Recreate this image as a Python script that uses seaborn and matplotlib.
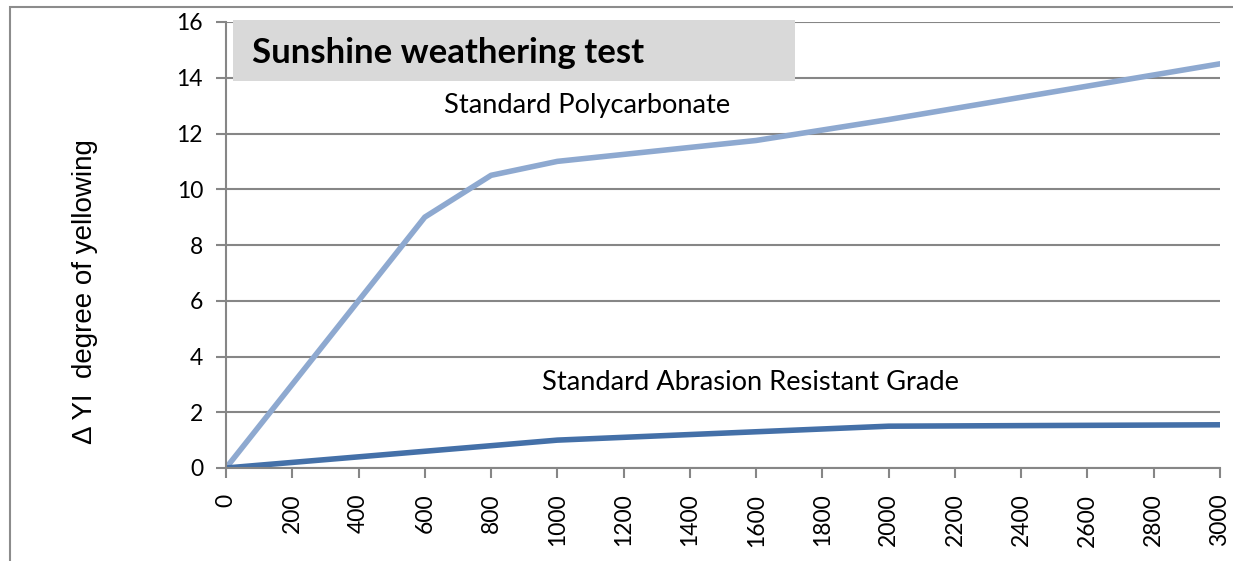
import matplotlib
matplotlib.use("Agg")
import matplotlib.pyplot as plt
import seaborn as sns
import pandas as pd
from matplotlib.patches import Rectangle

# Data
pc_hours = [0, 600, 800, 1000, 1600, 2000, 3000]
pc_yi = [0, 9.0, 10.5, 11.0, 11.75, 12.5, 14.5]
ar_hours = [0, 1000, 1600, 2000, 3000]
ar_yi = [0, 1.0, 1.3, 1.5, 1.55]
x_ticks = list(range(0, 3001, 200))
y_ticks = list(range(0, 17, 2))

title = "Sunshine weathering test"
ylabel = "Δ YI  degree of yellowing"
pc_name = "Standard Polycarbonate"
ar_name = "Standard Abrasion Resistant Grade"

sns.set_theme(style="white")
plt.rcParams['font.family'] = ['Lato', 'DejaVu Sans']
plt.rcParams['text.color'] = 'black'
plt.rcParams['xtick.labelcolor'] = 'black'
plt.rcParams['ytick.labelcolor'] = 'black'
plt.rcParams['axes.labelcolor'] = 'black'

df = pd.concat([
    pd.DataFrame({"hours": pc_hours, "yi": pc_yi, "grade": pc_name}),
    pd.DataFrame({"hours": ar_hours, "yi": ar_yi, "grade": ar_name}),
])

W, H = 1233, 561
fig = plt.figure(figsize=(W/100, H/100), dpi=100)
ax = fig.add_axes([226/W, 1-468/H, (1220-226)/W, (468-22)/H])

# outer chart border
fig.patches.append(Rectangle((10/W, -0.1), 1.2, 1 - 7/H + 0.1, transform=fig.transFigure,
                             fill=False, edgecolor="#8c8c8c", linewidth=1.5))

sns.lineplot(data=df, x="hours", y="yi", hue="grade",
             palette={pc_name: "#8EA9D0", ar_name: "#4470A8"},
             linewidth=4.0, legend=False, ax=ax, solid_capstyle="round")

ax.set_xlim(0, 3000)
ax.set_ylim(0, 16)
ax.set_xticks(x_ticks)
ax.set_yticks(y_ticks)
ax.set_xticklabels([str(v) for v in x_ticks], rotation=90, fontsize=16.5, color="black")
ax.set_yticklabels([str(v) for v in y_ticks], fontsize=16.5, color="black")
ax.set_xlabel("")
ax.set_ylabel(ylabel, fontsize=20, family=["Liberation Sans", "DejaVu Sans"], color="black")
ax.yaxis.set_label_coords(-(226-98)/994, (468-292)/446)

ax.grid(axis="y", color="#868686", linewidth=1.5)
ax.set_axisbelow(True)
for s in ["top", "right"]:
    ax.spines[s].set_visible(False)
for s in ["left", "bottom"]:
    ax.spines[s].set_color("#868686")
    ax.spines[s].set_linewidth(1.5)
ax.tick_params(axis="both", which="major", direction="out", length=7.5, width=1.5,
               color="#868686", left=True, bottom=True)
ax.tick_params(axis="y", pad=9)
ax.tick_params(axis="x", pad=11)

# title box
fig.patches.append(Rectangle((233/W, 1-81/H), (795-233)/W, (81-20)/H,
                             transform=fig.transFigure, facecolor="#D9D9D9", edgecolor="none", zorder=0.5))
fig.text(252/W, 1-53/H, title, fontsize=25, fontweight="bold", va="center", ha="left", color="black")

fig.text(587/W, 1-105/H, pc_name, fontsize=19.6, ha="center", va="center", color="black")
fig.text(750/W, 1-382/H, ar_name, fontsize=19.6, ha="center", va="center", color="black")

fig.savefig("out.png", dpi=100)
